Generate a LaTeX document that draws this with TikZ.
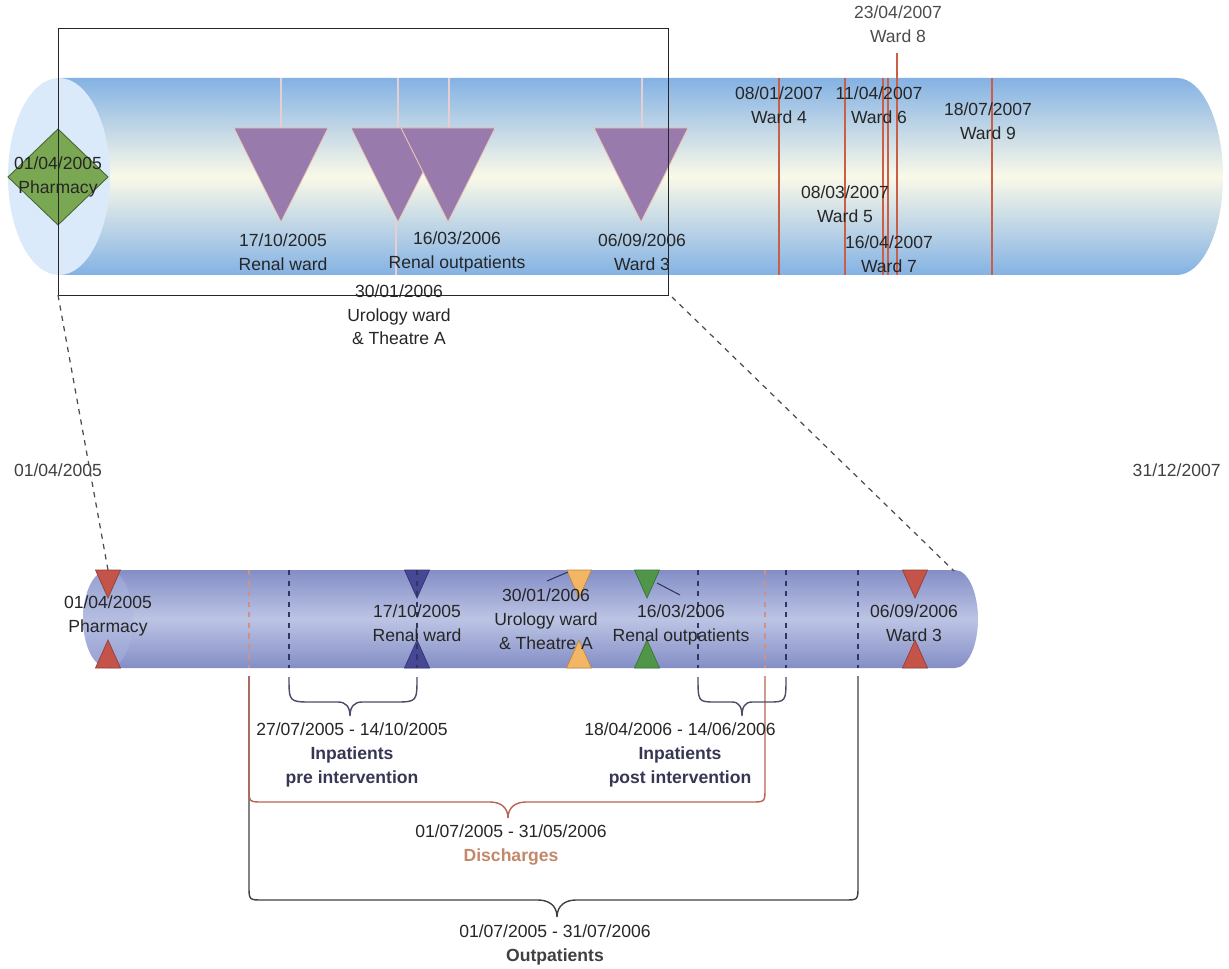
\documentclass[tikz,border=0pt]{standalone}
\usepackage{fontspec}
\setmainfont{Liberation Sans}

\definecolor{cylblue}{RGB}{132,178,228}
\definecolor{cylpale}{RGB}{250,249,232}
\definecolor{capblue}{RGB}{218,234,250}
\definecolor{lowblue}{RGB}{132,142,198}
\definecolor{lowpale}{RGB}{188,196,228}
\definecolor{lowcap}{RGB}{150,160,210}
\definecolor{tripurple}{RGB}{152,122,172}
\definecolor{peach}{RGB}{235,200,180}
\definecolor{pinkish}{RGB}{232,205,212}
\definecolor{wardred}{RGB}{200,95,70}
\definecolor{diagreen}{RGB}{122,168,82}
\definecolor{trired}{RGB}{196,84,74}
\definecolor{triblue}{RGB}{70,72,150}
\definecolor{triorange}{RGB}{242,182,100}
\definecolor{trigreen}{RGB}{80,150,72}
\definecolor{navy}{RGB}{50,52,100}
\definecolor{discbrown}{RGB}{185,100,80}
\definecolor{discbrowntxt}{RGB}{195,135,105}
\definecolor{labelgrey}{RGB}{38,38,38}
\definecolor{boldnavy}{RGB}{55,55,85}

\begin{document}
\begin{tikzpicture}[x=0.02cm,y=-0.02cm,
  lbl/.style={align=center,font=\fontsize{10}{13.5}\selectfont,text=labelgrey,inner sep=0pt},
  redline/.style={draw=wardred,line width=0.6pt},
  pinkline/.style={draw=pinkish,line width=0.9pt},
  tri/.style={fill=tripurple,draw=peach,line width=0.5pt},
  navydash/.style={dashed,draw=navy,line width=0.8pt},
  browndash/.style={dashed,draw=discbrown!70,line width=0.7pt},
  zoomline/.style={dashed,draw=black!70,line width=0.7pt},
  bracenavy/.style={draw=boldnavy!90,line width=0.8pt},
  bracebrown/.style={draw=discbrown,line width=0.8pt},
  braceblack/.style={draw=black!75,line width=0.8pt}]
\useasboundingbox (0,0) rectangle (1229,969);

% top timeline cylinder
\shade[top color=cylblue,bottom color=cylblue,middle color=cylpale]
  (60,78) -- (1177,78) arc[start angle=-90,end angle=90,x radius=46,y radius=98.5]
  -- (60,275) -- cycle;
\fill[capblue] (59,176.5) ellipse [x radius=51,y radius=98.5];

% events up to 06/09/2006
\foreach \x in {281,398,449,642}
  \draw[pinkline] (\x,78) -- (\x,128);
\draw[pinkline] (396,222) -- (396,275);
\foreach \x in {281,398,448,641}
  \filldraw[tri] (\x-47,128) -- (\x+47,128) -- (\x,222) -- cycle;

% ward moves in 2007
\foreach \x in {779,845,883,888,992}
  \draw[redline] (\x,78) -- (\x,275);
\draw[redline] (897,53) -- (897,275);

% pharmacy start
\filldraw[fill=diagreen,draw=diagreen!60!black,line width=0.5pt]
  (58,129) -- (108,177) -- (58,225) -- (8,177) -- cycle;
\node[lbl] (pharmTop) at (58,177) {01/04/2005\\Pharmacy};

% zoom box
\draw[black!85,line width=0.45pt] (58,28) rectangle (668,295);
\coordinate (zoomSW) at (58,295);
\coordinate (zoomSE) at (672,297);

\node[lbl] (renalTop) at (283,252) {17/10/2005\\Renal ward};
\node[lbl] (outpTop) at (457,252) {16/03/2006\\Renal outpatients};
\node[lbl] (ward3Top) at (642,252) {06/09/2006\\Ward 3};
\node[lbl] (uroTop) at (399,315) {30/01/2006\\Urology ward\\\& Theatre A};
\node[lbl] (ward4) at (779,105) {08/01/2007\\Ward 4};
\node[lbl] (ward6) at (879,105) {11/04/2007\\Ward 6};
\node[lbl] (ward9) at (988,121) {18/07/2007\\Ward 9};
\node[lbl] (ward5) at (845,204) {08/03/2007\\Ward 5};
\node[lbl] (ward7) at (889,254) {16/04/2007\\Ward 7};
\node[lbl,text=black!70] (ward8) at (898,24) {23/04/2007\\Ward 8};

\node[lbl,text=black!75] (startDate) at (58,470) {01/04/2005};
\node[lbl,text=black!75,anchor=east] (endDate) at (1221,470) {31/12/2007};

% lower (zoomed) cylinder
\shade[top color=lowblue,bottom color=lowblue,middle color=lowpale]
  (108,570) -- (955,570) arc[start angle=-90,end angle=90,x radius=23,y radius=49]
  -- (108,668) -- cycle;
\shade[top color=lowcap,bottom color=lowcap,middle color=lowpale!80!lowcap]
  (108,619) ellipse [x radius=25,y radius=49];

\coordinate (pharmLow) at (108,570);
\coordinate (lowEnd) at (954,571);
\draw[zoomline] (zoomSW) -- (pharmLow);
\draw[zoomline] (zoomSE) -- (lowEnd);

\foreach \x/\c in {108/trired,417/triblue,579/triorange,647/trigreen,915/trired}{
  \filldraw[fill=\c,draw=\c!75!black,line width=0.4pt]
    (\x-12.5,570) -- (\x+12.5,570) -- (\x,598) -- cycle;
  \filldraw[fill=\c,draw=\c!75!black,line width=0.4pt]
    (\x-12.5,668) -- (\x+12.5,668) -- (\x,640) -- cycle;
}

\foreach \x in {289,417,698,786,858}
  \draw[navydash] (\x,570) -- (\x,668);
\foreach \x in {249,765}
  \draw[browndash] (\x,570) -- (\x,668);

\draw[navy,line width=0.6pt] (547,581) -- (568,572);
\draw[navy,line width=0.6pt] (657,583) -- (680,595);

\node[lbl,text=black!85] (pharmLowLbl) at (108,616) {01/04/2005\\Pharmacy};
\node[lbl,text=black!85] (renalLow) at (417,623) {17/10/2005\\Renal ward};
\node[lbl,text=black!85] (uroLow) at (546,619) {30/01/2006\\Urology ward\\\& Theatre A};
\node[lbl,text=black!85] (outpLow) at (681,625) {16/03/2006\\Renal outpatients};
\node[lbl,text=black!85] (ward3Low) at (914,623) {06/09/2006\\Ward 3};

% braces
\draw[braceblack] (249,676) -- (249,886) .. controls (249,900) and (249,900) .. (263,900)
  -- (538,900) .. controls (548,900) and (557,905) .. (557,917)
  .. controls (557,905) and (566,900) .. (576,900)
  -- (844,900) .. controls (858,900) and (858,900) .. (858,886) -- (858,676);
\draw[bracebrown] (249,676) -- (249,788) .. controls (249,802) and (249,802) .. (263,802)
  -- (490,802) .. controls (500,802) and (508,807) .. (508,818)
  .. controls (508,807) and (516,802) .. (526,802)
  -- (751,802) .. controls (765,802) and (765,802) .. (765,788) -- (765,676);
\draw[bracenavy] (289,677) .. controls (289,702) and (289,702) .. (312,702)
  -- (338,702) .. controls (346,702) and (350,707) .. (350,716)
  .. controls (350,707) and (354,702) .. (362,702)
  -- (394,702) .. controls (417,702) and (417,702) .. (417,677);
\draw[bracenavy] (698,677) .. controls (698,702) and (698,702) .. (716,702)
  -- (732,702) .. controls (739,702) and (742,707) .. (742,716)
  .. controls (742,707) and (745,702) .. (752,702)
  -- (768,702) .. controls (786,702) and (786,702) .. (786,677);

\node[lbl] (preLbl) at (352,755)
  {27/07/2005 - 14/10/2005\\\textcolor{boldnavy}{\textbf{Inpatients}}\\\textcolor{boldnavy}{\textbf{pre intervention}}};
\node[lbl] (postLbl) at (680,755)
  {18/04/2006 - 14/06/2006\\\textcolor{boldnavy}{\textbf{Inpatients}}\\\textcolor{boldnavy}{\textbf{post intervention}}};
\node[lbl] (discLbl) at (511,845)
  {01/07/2005 - 31/05/2006\\\textcolor{discbrowntxt}{\textbf{Discharges}}};
\node[lbl] (outLbl) at (555,945)
  {01/07/2005 - 31/07/2006\\\textcolor{black!75}{\textbf{Outpatients}}};
\end{tikzpicture}
\end{document}
